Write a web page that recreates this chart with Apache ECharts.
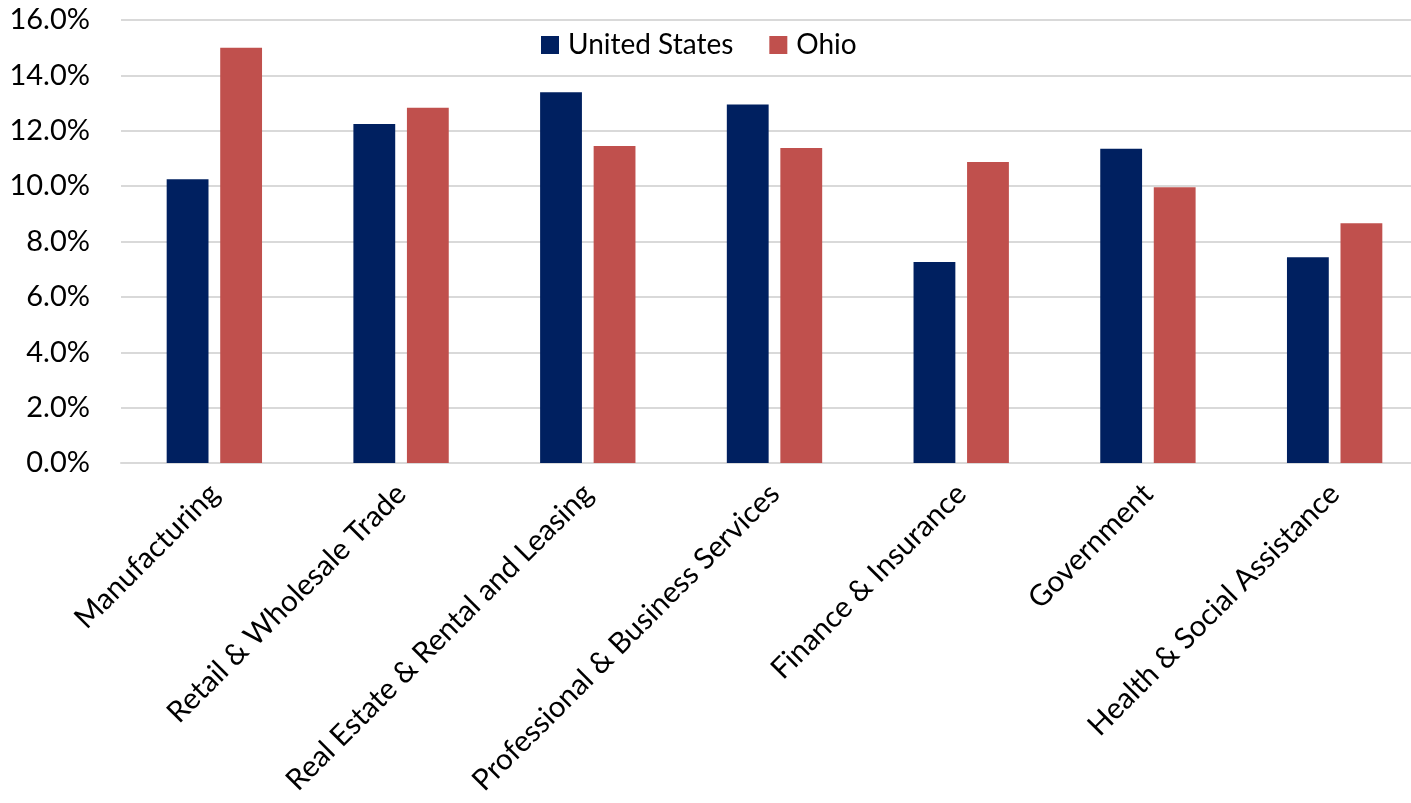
<!DOCTYPE html>
<html>
<head>
<meta charset="utf-8">
<script src="https://cdn.jsdelivr.net/npm/echarts@6/dist/echarts.min.js"></script>
<style>
  html, body { margin: 0; padding: 0; background: #fff; overflow: hidden; }
  #main { width: 1430px; height: 803px; }
</style>
</head>
<body>
<div id="main"></div>
<script>
// industries, share of GDP (%)
var categories = ['Manufacturing', 'Retail & Wholesale Trade', 'Real Estate & Rental and Leasing',
    'Professional & Business Services', 'Finance & Insurance', 'Government', 'Health & Social Assistance'];
var usValues = [10.25, 12.24, 13.39, 12.95, 7.26, 11.35, 7.43];
var ohioValues = [15.0, 12.83, 11.45, 11.38, 10.87, 9.96, 8.66];
var yTicks = [0, 2, 4, 6, 8, 10, 12, 14, 16];

var font = 'Lato, "Noto Sans", sans-serif';

var myChart = echarts.init(document.getElementById('main'));

var option = {
    animation: false,
    textStyle: { fontFamily: font },
    legend: {
        data: ['United States', 'Ohio'],
        left: 536,
        top: 26,
        icon: 'rect',
        itemWidth: 18,
        itemHeight: 18,
        itemGap: 36,
        textStyle: { fontFamily: font, fontSize: 28, color: '#000', padding: [0, 0, 0, 4] }
    },
    grid: {
        left: 121,
        right: 2,
        top: 20,
        bottom: 340,
        containLabel: false,
        outerBoundsMode: 'none'
    },
    xAxis: {
        type: 'category',
        data: categories,
        axisLine: { lineStyle: { color: '#d9d9d9', width: 2 } },
        axisTick: { show: false },
        axisLabel: {
            rotate: 45,
            interval: 0,
            margin: 26,
            color: '#000',
            fontFamily: font,
            fontSize: 29.5
        }
    },
    yAxis: {
        type: 'value',
        min: yTicks[0],
        max: yTicks[yTicks.length - 1],
        interval: 2,
        axisLine: { show: false },
        axisTick: { show: false },
        splitLine: { lineStyle: { color: '#d9d9d9', width: 2 } },
        axisLabel: {
            margin: 31,
            color: '#000',
            fontFamily: font,
            fontSize: 29,
            formatter: function (v) { return v.toFixed(1) + '%'; }
        }
    },
    series: [
        {
            name: 'United States',
            type: 'bar',
            data: usValues,
            barWidth: '22.4%',
            barGap: '28%',
            itemStyle: { color: '#002060' }
        },
        {
            name: 'Ohio',
            type: 'bar',
            data: ohioValues,
            barWidth: '22.4%',
            itemStyle: { color: '#C0504D' }
        }
    ]
};

myChart.setOption(option);
</script>
</body>
</html>
